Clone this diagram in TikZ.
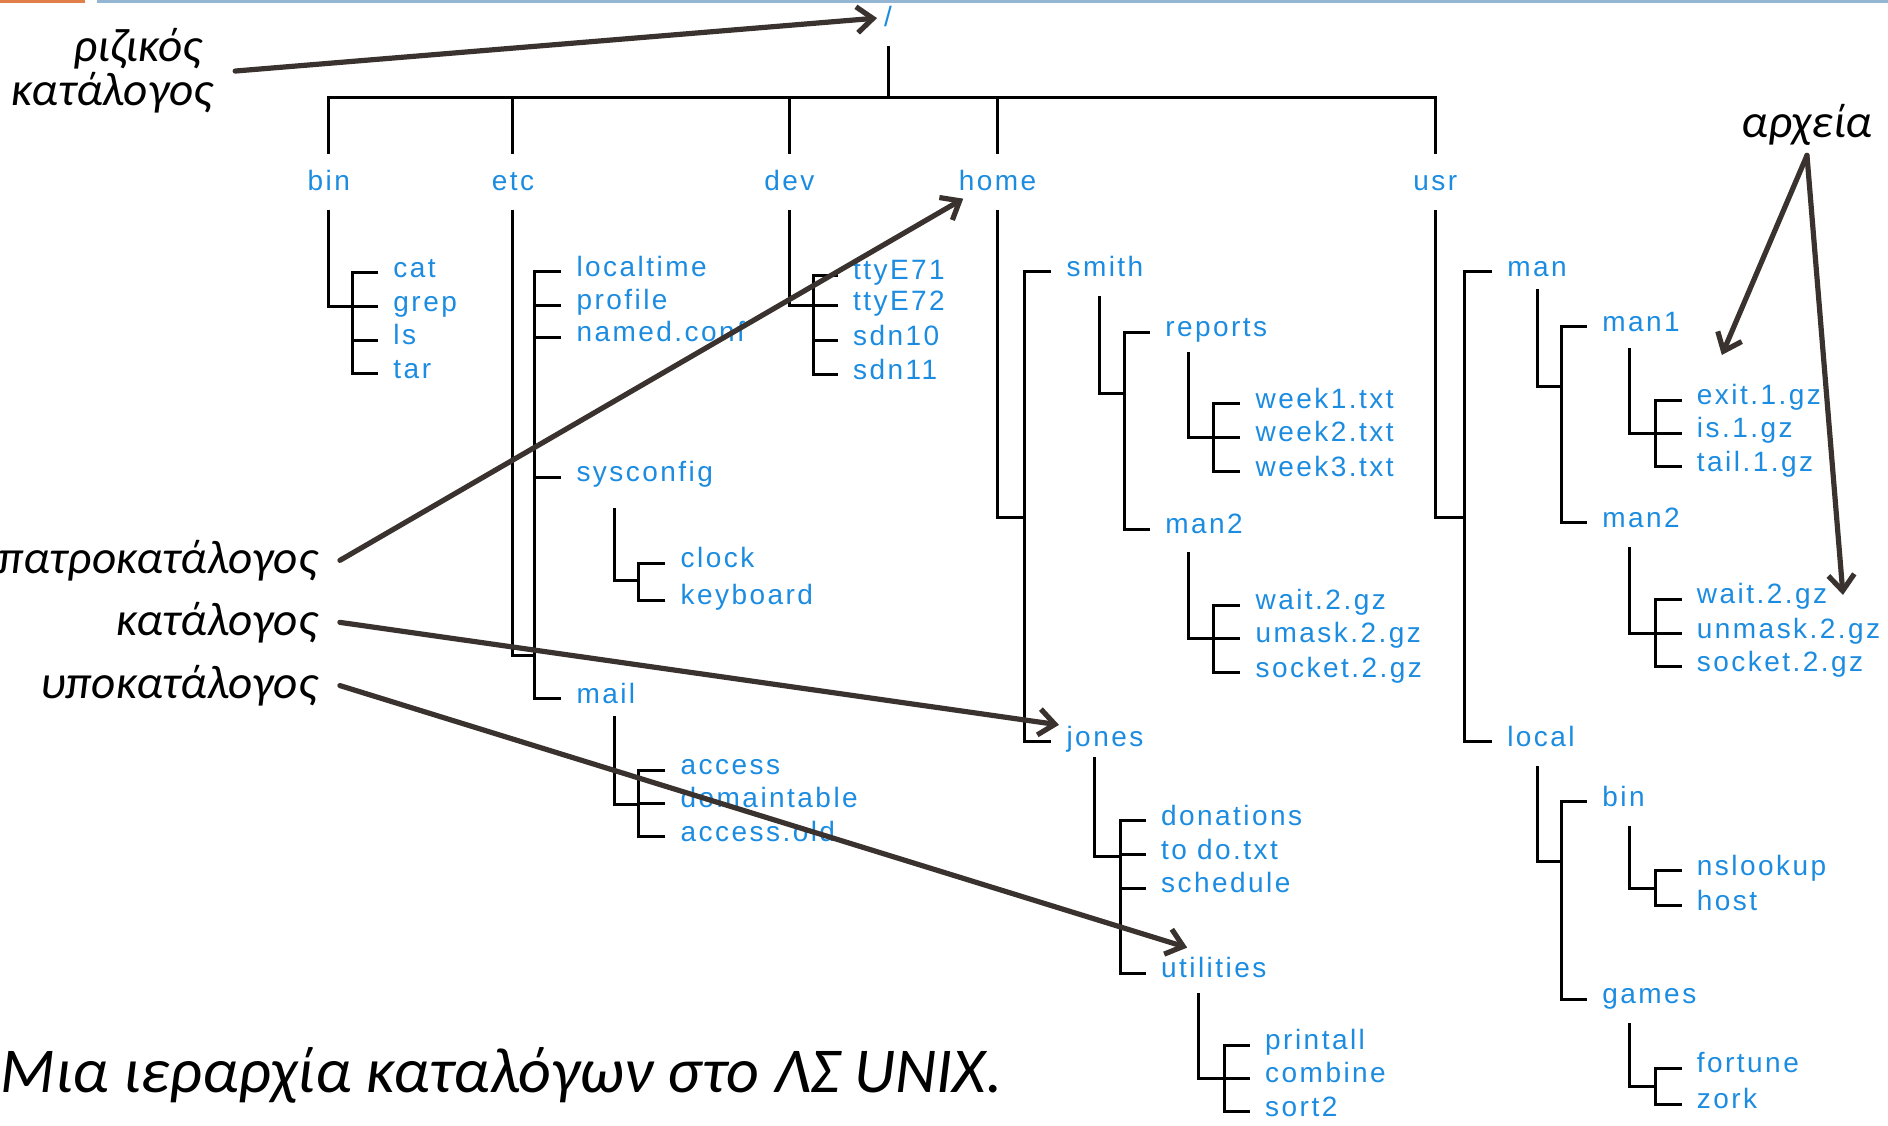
\documentclass[tikz,border=0pt]{standalone}
\usepackage{fontspec}
\setmainfont{Carlito}
\newfontfamily\treefont[LetterSpace=8.8]{Liberation Sans}
\usetikzlibrary{arrows.meta}

\definecolor{dirblue}{RGB}{28,140,224}
\definecolor{pointbrown}{RGB}{58,50,46}
\definecolor{titleorange}{RGB}{224,128,72}
\definecolor{titleblue}{RGB}{148,182,210}

\tikzset{
  tree/.style={line width=1.5pt},
  entry/.style={anchor=west, text=dirblue, font=\treefont\fontsize{14}{14}\selectfont,
    inner xsep=7.5pt, inner ysep=0pt, text height=4.6pt, text depth=0pt},
  topdir/.style={anchor=base, text=dirblue, font=\treefont\fontsize{14}{14}\selectfont,
    text height=8.4pt, text depth=0pt, inner ysep=9.6pt},
  note/.style={font=\itshape\fontsize{23.6}{22}\selectfont, anchor=base east, align=right, inner xsep=11pt},
  pointer/.style={line width=2.6pt, pointbrown, line cap=round, -{Straight Barb[length=8pt,width=13pt]}},
}

\begin{document}
\begin{tikzpicture}[x=0.6022pt, y=-0.6022pt]
  \useasboundingbox (0,0) rectangle (1568,935);
  % title bar
  \fill[titleorange] (0,0) rectangle (70.6,2.5);
  \fill[titleblue] (80.8,0) rectangle (1568,2.5);

  % root and first level
  \node[topdir] (root) at (737.5,22) {/};
  \coordinate (bar) at (737.5,81.1);
  \draw[tree] (root.south) -- (bar);
  \foreach \n/\x in {bin/273, etc/426, dev/655.5, home/828.5, usr/1192}
    \node[topdir] (\n) at (\x,158) {\n};
  \foreach \n in {bin, etc, dev, home, usr}
    \draw[tree] (bar) -| (\n.north);

  % /bin
  \coordinate (binJ) at (292.5,254.7);
  \draw[tree] (bin.south) |- (binJ);
  \foreach \n/\t/\y in {cat/cat/226.5, grep/grep/254.7, ls/ls/282.4, tar/tar/310.6} {
    \node[entry] (\n) at (314,\y) {\t};
    \draw[tree] (\n.west) -| (binJ);
  }

  % /etc
  \coordinate (etcJ) at (444.3,544);
  \draw[tree] (etc.south) |- (etcJ);
  \foreach \n/\t/\y in {localtime/localtime/225.6, profile/profile/253.3, named/named.conf/280.1,
      sysconfig/sysconfig/396.4, mail/mail/580.5} {
    \node[entry] (\n) at (466,\y) {\t};
    \draw[tree] (\n.west) -| (etcJ);
  }
  \coordinate (sysT) at (510,422);
  \coordinate (sysJ) at (530.6,481.7);
  \draw[tree] (sysT) |- (sysJ);
  \foreach \n/\t/\y in {clock/clock/467.9, keyboard/keyboard/498.3} {
    \node[entry] (\n) at (552.5,\y) {\t};
    \draw[tree] (\n.west) -| (sysJ);
  }
  \coordinate (mailT) at (510,595);
  \coordinate (mailJ) at (530.6,668);
  \draw[tree] (mailT) |- (mailJ);
  \foreach \n/\t/\y in {access/access/639.5, domain/domaintable/667.2, accold/access.old/694.9} {
    \node[entry] (\n) at (552.5,\y) {\t};
    \draw[tree] (\n.west) -| (mailJ);
  }

  % /dev
  \coordinate (devJ) at (675.3,254.1);
  \draw[tree] (dev.south) |- (devJ);
  \foreach \n/\t/\y in {ttyA/ttyE71/228.4, ttyB/ttyE72/254.1, sdnA/sdn10/283, sdnB/sdn11/311.4} {
    \node[entry] (\n) at (695.7,\y) {\t};
    \draw[tree] (\n.west) -| (devJ);
  }

  % /home
  \coordinate (homeJ) at (851,429.6);
  \draw[tree] (home.south) |- (homeJ);
  \foreach \n/\t/\y in {smith/smith/225.6, jones/jones/616} {
    \node[entry] (\n) at (873,\y) {\t};
    \draw[tree] (\n.west) -| (homeJ);
  }
  \coordinate (smithT) at (913.3,245.8);
  \coordinate (smithJ) at (934.3,326.6);
  \draw[tree] (smithT) |- (smithJ);
  \foreach \n/\t/\y in {reports/reports/276, hman/man2/439.6} {
    \node[entry] (\n) at (955,\y) {\t};
    \draw[tree] (\n.west) -| (smithJ);
  }
  \coordinate (repT) at (987.1,292);
  \coordinate (repJ) at (1008,363.2);
  \draw[tree] (repT) |- (repJ);
  \foreach \n/\t/\y in {weekA/week1.txt/335.5, weekB/week2.txt/363.2, weekC/week3.txt/391.7} {
    \node[entry] (\n) at (1030,\y) {\t};
    \draw[tree] (\n.west) -| (repJ);
  }
  \coordinate (hmanT) at (987.1,458.2);
  \coordinate (hmanJ) at (1008,530.1);
  \draw[tree] (hmanT) |- (hmanJ);
  \foreach \n/\t/\y in {hwait/wait.2.gz/502.5, humask/umask.2.gz/530.1, hsock/socket.2.gz/558.6} {
    \node[entry] (\n) at (1030,\y) {\t};
    \draw[tree] (\n.west) -| (hmanJ);
  }
  \coordinate (jonesT) at (908.6,629);
  \coordinate (jonesJ) at (930.6,711);
  \draw[tree] (jonesT) |- (jonesJ);
  \foreach \n/\t/\y in {donations/donations/681.6, todo/to do.txt/710, schedule/schedule/737.8,
      utilities/utilities/808.4} {
    \node[entry] (\n) at (951.5,\y) {\t};
    \draw[tree] (\n.west) -| (jonesJ);
  }
  \coordinate (utilT) at (995,825);
  \coordinate (utilJ) at (1017,895.6);
  \draw[tree] (utilT) |- (utilJ);
  \foreach \n/\t/\y in {printall/printall/867.9, combine/combine/895.6, sort/sort2/923.2} {
    \node[entry] (\n) at (1038,\y) {\t};
    \draw[tree] (\n.west) -| (utilJ);
  }

  % /usr
  \coordinate (usrJ) at (1215.9,429.6);
  \draw[tree] (usr.south) |- (usrJ);
  \foreach \n/\t/\y in {man/man/225.6, local/local/616} {
    \node[entry] (\n) at (1239,\y) {\t};
    \draw[tree] (\n.west) -| (usrJ);
  }
  \coordinate (manT) at (1277,240);
  \coordinate (manJ) at (1296.9,321);
  \draw[tree] (manT) |- (manJ);
  \foreach \n/\t/\y in {manA/man1/271.3, uman/man2/434} {
    \node[entry] (\n) at (1318,\y) {\t};
    \draw[tree] (\n.west) -| (manJ);
  }
  \coordinate (manAT) at (1353.5,289.3);
  \coordinate (manAJ) at (1375.3,359.9);
  \draw[tree] (manAT) |- (manAJ);
  \foreach \n/\t/\y in {exit/exit.1.gz/332.2, is/is.1.gz/359.9, tail/tail.1.gz/387.6} {
    \node[entry] (\n) at (1396.5,\y) {\t};
    \draw[tree] (\n.west) -| (manAJ);
  }
  \coordinate (umanT) at (1353.5,454);
  \coordinate (umanJ) at (1375.3,526.5);
  \draw[tree] (umanT) |- (umanJ);
  \foreach \n/\t/\y in {uwait/wait.2.gz/497.7, unmask/unmask.2.gz/526.5, usock/socket.2.gz/553.7} {
    \node[entry] (\n) at (1396.5,\y) {\t};
    \draw[tree] (\n.west) -| (umanJ);
  }
  \coordinate (localT) at (1277,636.2);
  \coordinate (localJ) at (1296.9,715.6);
  \draw[tree] (localT) |- (localJ);
  \foreach \n/\t/\y in {lbin/bin/665.8, games/games/829.7} {
    \node[entry] (\n) at (1318,\y) {\t};
    \draw[tree] (\n.west) -| (localJ);
  }
  \coordinate (lbinT) at (1353.5,686);
  \coordinate (lbinJ) at (1375.3,737.8);
  \draw[tree] (lbinT) |- (lbinJ);
  \foreach \n/\t/\y in {nslookup/nslookup/723.1, host/host/752.4} {
    \node[entry] (\n) at (1396.5,\y) {\t};
    \draw[tree] (\n.west) -| (lbinJ);
  }
  \coordinate (gamesT) at (1353.5,849.9);
  \coordinate (gamesJ) at (1375.3,902.5);
  \draw[tree] (gamesT) |- (gamesJ);
  \foreach \n/\t/\y in {fortune/fortune/887.3, zork/zork/916.9} {
    \node[entry] (\n) at (1396.5,\y) {\t};
    \draw[tree] (\n.west) -| (gamesJ);
  }

  % notes and pointers
  \node[note, anchor=east] (rootnote) at (195.3,59) {ριζικός\hspace*{5.4pt}\\κατάλογος};
  \node[note] (parentnote) at (282.3,476) {πατροκατάλογος};
  \node[note] (dirnote) at (282.3,527.5) {κατάλογος};
  \node[note] (subnote) at (282.3,580) {υποκατάλογος};
  \node[note, anchor=base, inner ysep=5pt] (filenote) at (1500.7,113.8) {αρχεία};
  \coordinate (homeTip) at (800,165);
  \coordinate (jonesTip) at (879.5,602);
  \coordinate (utilTip) at (986,787);
  \coordinate (exitTip) at (1430,294.8);
  \coordinate (uwaitTip) at (1530.6,494.1);
  \draw[pointer] (rootnote.east) -- (root.west);
  \draw[pointer] (parentnote.east) -- (homeTip);
  \draw[pointer] (dirnote.east) -- (jonesTip);
  \draw[pointer] (subnote.east) -- (utilTip);
  \draw[pointer] (filenote.south) -- (exitTip);
  \draw[pointer] (filenote.south) -- (uwaitTip);

  \node[anchor=base west, inner sep=0pt, font=\itshape\fontsize{32}{33}\selectfont] (caption)
    at (0,907.7) {Μια ιεραρχία καταλόγων στο ΛΣ UNIX.};
\end{tikzpicture}
\end{document}
